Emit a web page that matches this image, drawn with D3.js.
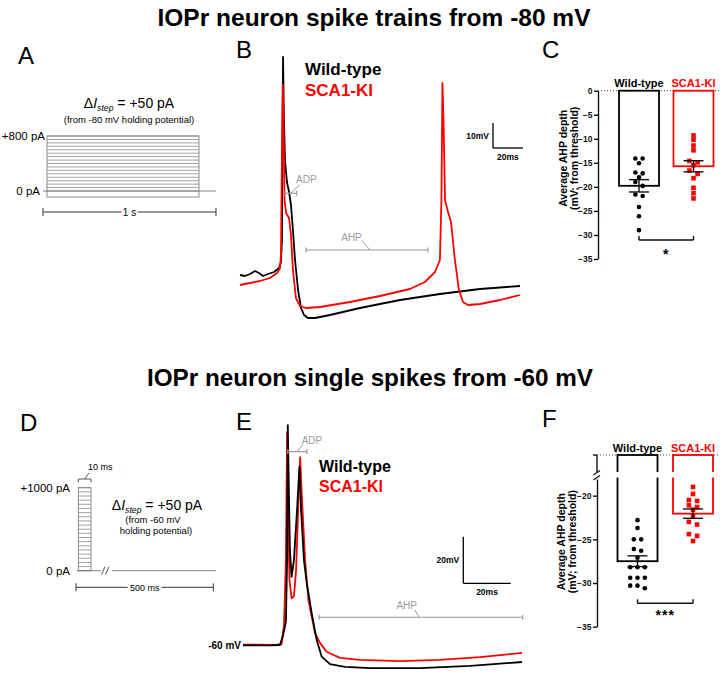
<!DOCTYPE html>
<html>
<head>
<meta charset="utf-8">
<script src="https://cdn.jsdelivr.net/npm/d3@7"></script>
<style>
  body { margin: 0; background: #fff; }
  text { font-family: "Liberation Sans", Arial, sans-serif; }
</style>
</head>
<body>
<div id="chart"></div>
<script>
const titles = ["IOPr neuron spike trains from -80 mV", "IOPr neuron single spikes from -60 mV"];
const groups = ["Wild-type", "SCA1-KI"];
const groupColors = ["#000000", "#ff0000"];

//current step protocols (pA)
const stepsA = [0, 50, 100, 150, 200, 250, 300, 350, 400, 450, 500, 550, 600, 650, 700, 750, 800];
const stepsD = [0, 50, 100, 150, 200, 250, 300, 350, 400, 450, 500, 550, 600, 650, 700, 750, 800, 850, 900, 950, 1000];

//panel B traces, [ms, mV]
const traceB_WT = [[0,-60],[3.3,-60.4],[6.7,-59.6],[10,-58.4],[12.7,-59.2],[15.3,-60.4],[18.7,-59.6],[22.7,-58.8],[26,-57.2],[27.3,-54.8],[28,-46],[28.3,-10],[28.7,27.2],[29.3,2],[30,-14],[31.3,-22.8],[32.7,-26.8],[34,-32],[35.3,-42],[36.7,-54],[38.7,-66],[40.7,-73.2],[42.7,-76],[45.3,-77.2],[50,-77.2],[60,-76],[80,-73.2],[106.7,-70],[133.3,-67.6],[160,-65.6],[186.7,-64.4]];
const traceB_KI = [[0,-64],[6.7,-63.2],[13.3,-62.4],[20,-61.2],[24.7,-59.2],[26.7,-57.2],[27.3,-52],[28,-10],[28.5,16],[29,2],[29.7,-30],[30.7,-35.2],[32.7,-37.2],[34,-44],[35.3,-58],[37.3,-69.2],[40,-72.4],[44,-73.2],[53.3,-72.8],[73.3,-70.8],[93.3,-68.4],[113.3,-65.6],[123.3,-62.8],[130,-58.8],[133.3,-54],[134.3,-30],[135,16.8],[135.7,2],[136.7,-30],[138.7,-34.8],[140.7,-38.8],[143.3,-54],[146,-66],[148.7,-70.8],[152,-72],[160,-71.6],[173.3,-70],[186.7,-68]];

//panel E traces, [ms, mV]
const traceE_WT = [[0,-60.2],[11.4,-60.2],[15.6,-60],[16.9,-55.7],[18.1,-50.1],[18.6,-23.5],[18.9,34.4],[19.2,15.1],[19.8,-19.2],[20.5,-30.7],[21.5,-23.5],[22.8,-2],[23.8,16.5],[24.5,-2],[25.7,-23.5],[26.9,-33.5],[29,-46.4],[31.1,-57.9],[33.2,-65],[36.7,-68.2],[43,-69.4],[53.6,-69.9],[74.7,-69.9],[95.8,-69],[117.7,-67.3]];
const traceE_KI = [[0,-59.8],[13.5,-60],[16.3,-59.6],[17.3,-51.4],[18.1,-23.5],[18.6,31.4],[19,2.2],[19.6,-32.1],[20.5,-40],[21.5,-39],[22.4,-27.8],[23.4,2.2],[24.1,20.6],[24.9,2.2],[26.2,-23.5],[27.6,-40.7],[30.4,-55],[32.5,-59.1],[35.3,-62.9],[40.9,-65.5],[49.4,-66.4],[66.2,-66.9],[83.1,-66.4],[100,-65.2],[117.7,-63.4]];

//average AHP depth (mV from threshold)
const ahpC_WT = [-14.1, -14.1, -15.1, -17.0, -17.2, -18.0, -19.0, -19.8, -21.6, -21.9, -24.2, -26.1, -29.0];
const ahpC_KI = [-9.3, -10.2, -11.4, -12.4, -14.6, -14.9, -15.5, -16.6, -17.3, -18.2, -20.2, -21.3, -22.4];
const ahpF_WT = [-22.8, -23.7, -25.0, -25.0, -26.1, -26.3, -27.1, -28.2, -28.2, -28.2, -29.4, -29.4, -29.4, -30.3, -30.3, -30.6];
const ahpF_KI = [-19.0, -19.8, -20.5, -20.6, -21.1, -21.3, -21.6, -22.3, -23.0, -23.3, -24.4, -24.6, -25.2];
const ticksC = [0, -5, -10, -15, -20, -25, -30, -35];
const ticksF = [-20, -25, -30, -35];

const svg = d3.select("#chart").append("svg")
  .attr("width", 720).attr("height", 680)
  .style("background", "#fff");

//titles
[[374, 26, 433], [370, 386, 446]].forEach(([x, y, w], i) => {
  svg.append("text").attr("x", x).attr("y", y)
    .attr("text-anchor", "middle").attr("font-size", 24).attr("font-weight", "bold")
    .attr("textLength", w).attr("lengthAdjust", "spacingAndGlyphs")
    .text(titles[i]);
});

//panel letters
[["A", 18, 64], ["B", 236, 58], ["C", 542, 58], ["D", 20, 431], ["E", 236, 430], ["F", 542, 427]]
  .forEach(([t, x, y]) => svg.append("text").attr("x", x).attr("y", y).attr("font-size", 24).text(t));

function hline(g, x1, x2, y, color, w) {
  return g.append("line").attr("x1", x1).attr("x2", x2).attr("y1", y).attr("y2", y)
    .attr("stroke", color).attr("stroke-width", w || 1);
}
function seg(g, x1, y1, x2, y2, color, w) {
  return g.append("line").attr("x1", x1).attr("x2", x2).attr("y1", y1).attr("y2", y2)
    .attr("stroke", color).attr("stroke-width", w || 1);
}

function deltaLabel(g, x, y, size) {
  const t = g.append("text").attr("x", x).attr("y", y).attr("text-anchor", "middle").attr("font-size", size);
  t.append("tspan").text("Δ");
  t.append("tspan").attr("font-style", "italic").text("I");
  t.append("tspan").attr("font-style", "italic").attr("font-size", size * 0.62).attr("dy", 3).text("step");
  t.append("tspan").attr("dy", -3).text(" = +50 pA");
}

function scaleBarH(g, x1, x2, y, label, gap, size) {
  const mid = (x1 + x2) / 2;
  hline(g, x1, mid - gap, y, "#333");
  hline(g, mid + gap, x2, y, "#333");
  seg(g, x1, y - 4, x1, y + 4, "#333");
  seg(g, x2, y - 4, x2, y + 4, "#333");
  g.append("text").attr("x", mid).attr("y", y + 3.5).attr("text-anchor", "middle")
    .attr("font-size", size).text(label);
}

//panel A: step protocol
const gA = svg.append("g");
const yA = d3.scaleLinear().domain([0, 800]).range([191, 136]);
gA.selectAll("line.step").data(stepsA).join("line").attr("class", "step")
  .attr("x1", 47).attr("x2", 199)
  .attr("y1", d => yA(d)).attr("y2", d => yA(d))
  .attr("stroke", "#8c8c8c").attr("stroke-width", 0.8);
gA.append("rect").attr("x", 47).attr("y", yA(800)).attr("width", 152).attr("height", 197 - yA(800))
  .attr("fill", "none").attr("stroke", "#808080").attr("stroke-width", 0.9);
hline(gA, 43, 216, yA(0), "#777", 0.9);
gA.append("text").attr("x", 45).attr("y", yA(800) + 4).attr("text-anchor", "end").attr("font-size", 11.5).text("+800 pA");
gA.append("text").attr("x", 40).attr("y", yA(0) + 4).attr("text-anchor", "end").attr("font-size", 11.5).text("0 pA");
deltaLabel(gA, 129, 108, 14);
gA.append("text").attr("x", 129).attr("y", 123).attr("text-anchor", "middle").attr("font-size", 9.5)
  .text("(from -80 mV holding potential)");
scaleBarH(gA, 43, 216, 212, "1 s", 8, 10);

//panel D: single step protocol
const gD = svg.append("g");
const yD = d3.scaleLinear().domain([0, 1000]).range([570.7, 487.7]);
gD.selectAll("line.step").data(stepsD).join("line").attr("class", "step")
  .attr("x1", 78.3).attr("x2", 91)
  .attr("y1", d => yD(d)).attr("y2", d => yD(d))
  .attr("stroke", "#8c8c8c").attr("stroke-width", 0.8);
gD.append("rect").attr("x", 78.3).attr("y", yD(1000)).attr("width", 12.7).attr("height", yD(0) - yD(1000))
  .attr("fill", "none").attr("stroke", "#808080").attr("stroke-width", 0.9);
hline(gD, 76.7, 101, yD(0), "#777", 0.9);
hline(gD, 112, 216, yD(0), "#777", 0.9);
seg(gD, 101.5, yD(0) + 4, 105, yD(0) - 4, "#555");
seg(gD, 105.5, yD(0) + 4, 109, yD(0) - 4, "#555");
gD.append("text").attr("x", 70).attr("y", yD(1000) + 4).attr("text-anchor", "end").attr("font-size", 11.5).text("+1000 pA");
gD.append("text").attr("x", 70).attr("y", yD(0) + 4).attr("text-anchor", "end").attr("font-size", 11.5).text("0 pA");
hline(gD, 78.3, 91, 479, "#555");
seg(gD, 78.3, 479, 78.3, 482.5, "#555");
seg(gD, 91, 479, 91, 482.5, "#555");
seg(gD, 84.7, 479, 89, 473, "#555");
gD.append("text").attr("x", 88).attr("y", 470).attr("font-size", 9).text("10 ms");
deltaLabel(gD, 157, 510, 14);
gD.append("text").attr("x", 153).attr("y", 523).attr("text-anchor", "middle").attr("font-size", 9.5).text("(from -60 mV");
gD.append("text").attr("x", 156).attr("y", 534).attr("text-anchor", "middle").attr("font-size", 9.5).text("holding potential)");
scaleBarH(gD, 76, 213.3, 587.3, "500 ms", 17, 9);

//trace panels
function tracePanel(cfg) {
  const g = svg.append("g");
  const x = d3.scaleLinear().domain(cfg.xDomain).range(cfg.xRange);
  const y = d3.scaleLinear().domain(cfg.yDomain).range(cfg.yRange);
  const line = d3.line().x(d => x(d[0])).y(d => y(d[1]));
  cfg.traces.forEach(tr => {
    g.append("path").datum(tr.data).attr("d", line)
      .attr("fill", "none").attr("stroke", tr.color).attr("stroke-width", 1.8)
      .attr("stroke-linejoin", "round");
  });

  //legend
  groups.forEach((name, i) => {
    g.append("text").attr("x", cfg.legend[0]).attr("y", cfg.legend[1] + i * 20.5)
      .attr("font-size", cfg.legend[2]).attr("font-weight", "bold")
      .attr("fill", groupColors[i]).text(name);
  });

  //scale bar
  const [sx, sy] = cfg.bar;
  const lenX = x(cfg.barMs) - x(0);
  const lenY = y(cfg.yDomain[0]) - y(cfg.yDomain[0] + cfg.barMv);
  seg(g, sx, sy - lenY, sx, sy, "#000", 1.3);
  seg(g, sx, sy, sx + lenX, sy, "#000", 1.3);
  g.append("text").attr("x", sx - 4).attr("y", sy - lenY / 2 + 3).attr("text-anchor", "end")
    .attr("font-size", 8.5).attr("font-weight", "bold").text(cfg.barMv + "mV");
  g.append("text").attr("x", sx + lenX / 2).attr("y", sy + 12).attr("text-anchor", "middle")
    .attr("font-size", 8.5).attr("font-weight", "bold").text(cfg.barMs + "ms");

  //ADP / AHP annotations
  cfg.notes.forEach(n => {
    const x0 = x(n.t0), x1 = x(n.t1), yy = y(n.v);
    hline(g, x0, x1, yy, "#9a9a9a", 1.2);
    seg(g, x0, yy - 2.5, x0, yy + 2.5, "#9a9a9a", 1.2);
    seg(g, x1, yy - 2.5, x1, yy + 2.5, "#9a9a9a", 1.2);
    seg(g, n.c[0], n.c[1], n.c[2], n.c[3], "#9a9a9a", 1);
    g.append("text").attr("x", n.tx).attr("y", n.ty).attr("text-anchor", n.anchor)
      .attr("font-size", 10).attr("fill", "#9a9a9a").text(n.label);
  });
  return g;
}

tracePanel({
  xDomain: [0, 186.7], xRange: [240, 520],
  yDomain: [-70, 30], yRange: [300, 50],
  traces: [{ data: traceB_WT, color: groupColors[0] }, { data: traceB_KI, color: groupColors[1] }],
  legend: [305, 75, 17],
  bar: [493, 148], barMs: 20, barMv: 10,
  notes: [
    { label: "ADP", t0: 30, t1: 37.8, v: -27.3, c: [291, 193, 300, 184.5], tx: 296, ty: 182.5, anchor: "start" },
    { label: "AHP", t0: 44, t1: 125.3, v: -50, c: [361.7, 240.5, 370, 250], tx: 351.5, ty: 240.5, anchor: "middle" }
  ]
});

const gE = tracePanel({
  xDomain: [0, 117.7], xRange: [243, 522],
  yDomain: [-60, 40], yRange: [645, 412],
  traces: [{ data: traceE_KI, color: groupColors[1] }, { data: traceE_WT, color: groupColors[0] }],
  legend: [319, 471.5, 16],
  bar: [463.3, 583.3], barMs: 20, barMv: 20,
  notes: [
    { label: "ADP", t0: 18.9, t1: 26.9, v: 23.0, c: [297, 451.7, 303, 444.5], tx: 301.7, ty: 443.5, anchor: "start" },
    { label: "AHP", t0: 32.1, t1: 118, v: -48.1, c: [415, 610, 419, 617.3], tx: 406.7, ty: 608.5, anchor: "middle" }
  ]
});
gE.append("text").attr("x", 241).attr("y", 648.5).attr("text-anchor", "end")
  .attr("font-size", 10).attr("font-weight", "bold").text("-60 mV");

//bar + scatter panels
function swarm(values, y, thresh, spacing) {
  const idx = values.map((v, i) => i).sort((a, b) => y(values[a]) - y(values[b]));
  const offs = new Array(values.length).fill(0);
  let row = [];
  const flush = () => {
    row.forEach((k, j) => { offs[k] = (j - (row.length - 1) / 2) * spacing; });
    row = [];
  };
  idx.forEach(k => {
    if (row.length && y(values[k]) - y(values[row[0]]) >= thresh) flush();
    row.push(k);
  });
  flush();
  return offs;
}

function drawGroups(g, x, y, zeroY, sets) {
  sets.forEach((vals, i) => {
    const cx = x(groups[i]);
    const color = groupColors[i];
    const mean = d3.mean(vals);
    const sem = d3.deviation(vals) / Math.sqrt(vals.length);
    g.append("rect").attr("x", cx - 20).attr("y", zeroY).attr("width", 40)
      .attr("height", y(mean) - zeroY).attr("fill", "none")
      .attr("stroke", color).attr("stroke-width", 1.8);
    if (i === 0) {
      const offs = swarm(vals, y, 4.6, 7.3);
      g.selectAll("circle.wt").data(vals).join("circle").attr("class", "wt")
        .attr("cx", (d, k) => cx + offs[k]).attr("cy", d => y(d)).attr("r", 2.3).attr("fill", color);
    } else {
      const offs = swarm(vals, y, 4, 8.2);
      g.selectAll("rect.ki").data(vals).join("rect").attr("class", "ki")
        .attr("x", (d, k) => cx + offs[k] - 2.3).attr("y", d => y(d) - 2.3)
        .attr("width", 4.6).attr("height", 4.6).attr("fill", color);
    }
    //mean +- SEM
    const e1 = y(mean + sem), e2 = y(mean - sem);
    seg(g, cx, e1, cx, e2, "#111", 1.4);
    hline(g, cx - 10, cx + 10, e1, "#111", 1.4);
    hline(g, cx - 10, cx + 10, e2, "#111", 1.4);
  });
  groups.forEach((name, i) => {
    g.append("text").attr("x", x(name)).attr("y", zeroY - 3.5).attr("text-anchor", "middle")
      .attr("font-size", 11).attr("font-weight", "bold").attr("fill", groupColors[i]).text(name);
  });
}

function sigBracket(g, x1, x2, yy, label, ty, size) {
  hline(g, x1, x2, yy, "#111", 1.4);
  seg(g, x1, yy, x1, yy - 4, "#111", 1.4);
  seg(g, x2, yy, x2, yy - 4, "#111", 1.4);
  g.append("text").attr("x", (x1 + x2) / 2).attr("y", ty).attr("text-anchor", "middle")
    .attr("font-size", size).attr("font-weight", "bold").attr("letter-spacing", 1).text(label);
}

function yTitle(g, x1, x2, cy) {
  ["Average AHP depth", "(mV; from threshold)"].forEach((t, i) => {
    g.append("text").attr("transform", `translate(${i ? x2 : x1},${cy}) rotate(-90)`)
      .attr("text-anchor", "middle").attr("font-size", 10.5).attr("font-weight", "bold").text(t);
  });
}

function styleAxis(ax) {
  ax.select(".domain").attr("stroke", "#111").attr("stroke-width", 1.4);
  ax.selectAll(".tick line").attr("stroke", "#111").attr("stroke-width", 1.4);
  ax.selectAll(".tick text").attr("font-family", "Liberation Sans, Arial, sans-serif")
    .attr("font-size", 8.5).attr("font-weight", "bold").attr("fill", "#111");
}

//panel C
const gC = svg.append("g");
const yC = d3.scaleLinear().domain([0, -35]).range([90.7, 259]);
const xC = d3.scalePoint().domain(groups).range([639, 693.5]);
hline(gC, 598, 720, yC(0), "#444", 1).attr("stroke-dasharray", "1,2");
drawGroups(gC, xC, yC, yC(0), [ahpC_WT, ahpC_KI]);
const axC = gC.append("g").attr("transform", "translate(598,0)")
  .call(d3.axisLeft(yC).tickValues(ticksC).tickSize(4).tickSizeOuter(0).tickPadding(1.5));
styleAxis(axC);
yTitle(gC, 567, 578, 158.3);
sigBracket(gC, xC(groups[0]), xC(groups[1]), 240, "*", 259, 14);

//panel F (broken axis, 0 on the upper segment)
const gF = svg.append("g");
const yF = d3.scaleLinear().domain([-20, -35]).range([495.7, 626.7]);
const zeroF = 455;
const xF = d3.scalePoint().domain(groups).range([637.5, 693]);
hline(gF, 597, 720, zeroF, "#444", 1).attr("stroke-dasharray", "1,2");
drawGroups(gF, xF, yF, zeroF, [ahpF_WT, ahpF_KI]);
const yFaxis = yF.copy().domain([-18.1, -35]).range([yF(-18.1), yF(-35)]);
const axF = gF.append("g").attr("transform", "translate(597,0)")
  .call(d3.axisLeft(yFaxis).tickValues(ticksF).tickSize(4).tickSizeOuter(0).tickPadding(1.5));
styleAxis(axF);
seg(gF, 597, zeroF, 597, 472, "#111", 1.4);
seg(gF, 593, zeroF, 597, zeroF, "#111", 1.4);
//break gap
gF.append("rect").attr("x", 595).attr("y", 472).attr("width", 125).attr("height", 5.5).attr("fill", "#fff");
seg(gF, 593.5, 475, 600, 470.5, "#111", 1.2);
seg(gF, 593.5, 480, 600, 475.5, "#111", 1.2);
yTitle(gF, 565, 576, 541.7);
sigBracket(gF, xF(groups[0]), xF(groups[1]), 603.3, "***", 620, 14);
</script>
</body>
</html>
